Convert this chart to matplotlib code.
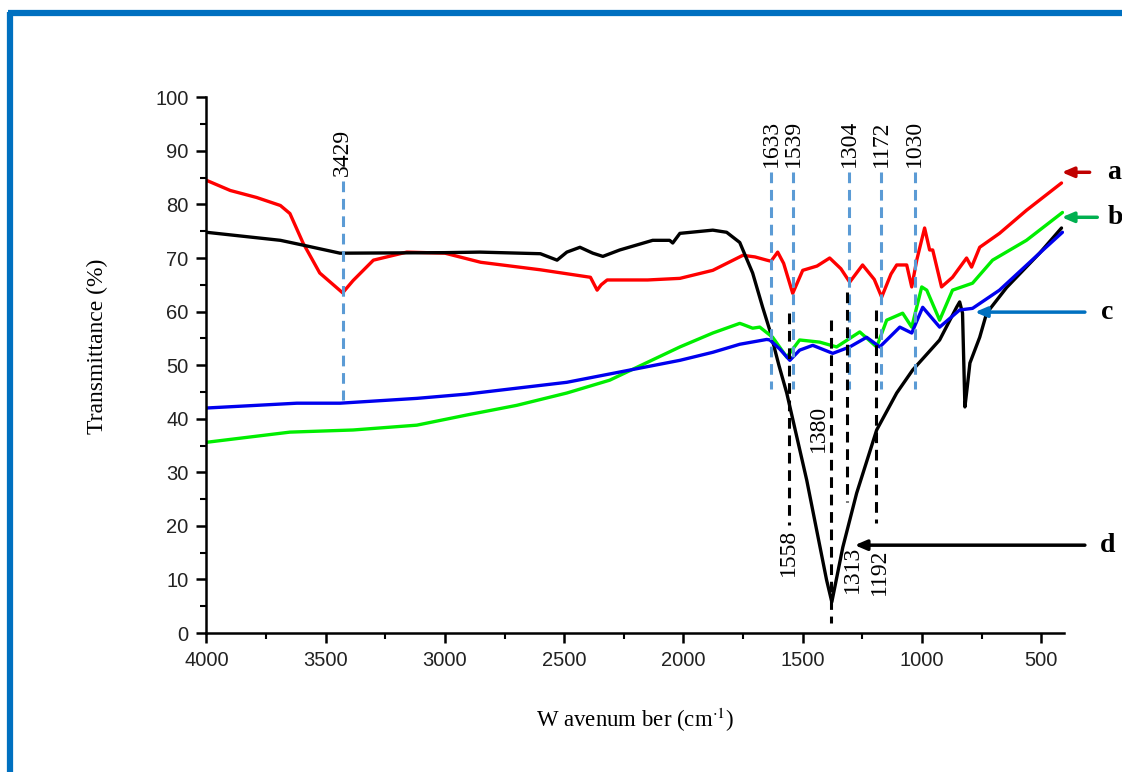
import numpy as np
import matplotlib
matplotlib.use('Agg')
import matplotlib.pyplot as plt
from matplotlib.lines import Line2D
from matplotlib.ticker import MultipleLocator

plt.rcParams['font.family'] = ['Liberation Sans', 'DejaVu Sans']
plt.rcParams['mathtext.fontset'] = 'stix'

# spectrum a (red)
a_wn = [4000, 3900, 3790, 3690, 3650, 3595, 3525, 3429, 3385, 3300, 3160, 3000, 2850,
        2600, 2390, 2362, 2345, 2320, 2150, 2015, 1877, 1751, 1700, 1651, 1633, 1605,
        1580, 1542, 1500, 1440, 1387, 1340, 1303, 1249, 1200, 1169, 1130, 1106, 1064,
        1043, 1022, 989, 968, 955, 918, 872, 813, 792, 758, 675, 562, 415]
a_t = [84.5, 82.6, 81.3, 79.8, 78.3, 72.8, 67.2, 63.5, 65.8, 69.6, 71.1, 70.9, 69.2,
       67.8, 66.4, 64.0, 65.0, 65.9, 65.9, 66.2, 67.7, 70.5, 70.2, 69.6, 69.4, 71.1,
       69.0, 63.4, 67.7, 68.5, 70.0, 68.0, 65.5, 68.7, 66.0, 62.7, 67.0, 68.7, 68.7,
       64.6, 69.6, 75.6, 71.5, 71.5, 64.6, 66.4, 70.0, 68.3, 72.0, 74.6, 78.9, 84.0]

# spectrum b (green)
b_wn = [4000, 3650, 3385, 3118, 2908, 2699, 2489, 2309, 2015, 1877, 1764, 1751, 1710,
        1680, 1626, 1567, 1513, 1429, 1358, 1261, 1190, 1148, 1081, 1043, 1001, 980,
        926, 872, 788, 704, 562, 411]
b_t = [35.6, 37.5, 37.9, 38.8, 40.7, 42.5, 44.8, 47.2, 53.4, 56.0, 57.8, 57.6, 56.9,
       57.1, 55.2, 51.5, 54.7, 54.3, 53.4, 56.2, 53.4, 58.4, 59.7, 57.1, 64.6, 64.0,
       58.4, 64.0, 65.3, 69.6, 73.3, 78.5]

# spectrum c (blue)
c_wn = [4000, 3621, 3440, 3118, 2908, 2699, 2489, 2015, 1877, 1764, 1651, 1638, 1596,
        1554, 1513, 1458, 1374, 1303, 1232, 1177, 1093, 1043, 997, 926, 842, 788, 675,
        507, 411]
c_t = [42.0, 42.9, 42.9, 43.8, 44.6, 45.7, 46.8, 50.9, 52.4, 53.9, 54.8, 54.7, 53.0,
       50.9, 52.8, 53.7, 52.2, 53.4, 55.2, 53.4, 57.1, 56.0, 60.8, 57.1, 60.3, 60.6,
       64.0, 70.9, 74.8]

# spectrum d (black)
d_wn = [4000, 3690, 3595, 3440, 3000, 2854, 2600, 2530, 2489, 2434, 2380, 2338, 2267,
        2129, 2058, 2045, 2015, 1877, 1819, 1764, 1710, 1668, 1638, 1600, 1567, 1483,
        1400, 1378, 1332, 1274, 1190, 1106, 1039, 926, 855, 842, 830, 820, 810, 799,
        758, 729, 645, 507, 415]
d_t = [74.8, 73.3, 72.4, 70.9, 71.0, 71.1, 70.8, 69.6, 71.1, 72.0, 70.9, 70.3, 71.5,
       73.3, 73.3, 72.8, 74.6, 75.2, 74.8, 72.9, 67.2, 60.8, 56.5, 50.0, 44.8, 28.5,
       9.9, 5.8, 16.0, 26.1, 37.9, 44.8, 49.1, 54.7, 60.8, 61.8, 59.7, 42.2, 46.0, 50.4,
       55.2, 59.7, 64.5, 70.9, 75.6]

# marked bands
blue_bands = [3429, 1633, 1539, 1304, 1172, 1030]
black_bands = [1558, 1380, 1313, 1192]

fig = plt.figure(figsize=(11.22, 7.72), dpi=100)
ax = fig.add_axes([0.184, 0.180, 0.764, 0.694])

lw = 2.4
for xs, ys, col in [(a_wn, a_t, '#ff0000'), (d_wn, d_t, '#000000'),
                    (b_wn, b_t, '#00ee00'), (c_wn, c_t, '#0000ee')]:
    ax.plot(xs, ys, color=col, lw=lw, solid_joinstyle='round', solid_capstyle='round')

# blue dashed band markers
dash = dict(ls=(0, (3.5, 2.2)), lw=2.2)
numfont = dict(family='Liberation Serif', fontsize=17)
for wn in blue_bands:
    if wn == 3429:
        ax.plot([wn, wn], [84.3, 43.5], color='#5b9bd5', **dash)
        ax.text(wn, 85.3, str(wn), rotation=90, ha='center', va='bottom', **numfont)
    else:
        ax.plot([wn, wn], [86.0, 45.6], color='#5b9bd5', **dash)
        ax.text(wn, 87.0, str(wn), rotation=90, ha='center', va='bottom', **numfont)

# black dashed band markers
ax.plot([1558, 1558], [59.7, 20.1], color='k', **dash)
ax.text(1558, 19.4, '1558', rotation=90, ha='center', va='top', **numfont)
ax.plot([1380, 1380], [58.4, 1.8], color='k', **dash)
ax.text(1433, 38.2, '1380', rotation=90, ha='center', va='center', **numfont)
ax.plot([1313, 1313], [63.6, 24.5], color='k', **dash)
ax.text(1290, 16.3, '1313', rotation=90, ha='center', va='top', **numfont)
ax.plot([1192, 1192], [60.3, 20.5], color='k', **dash)
ax.text(1177, 15.8, '1192', rotation=90, ha='center', va='top', **numfont)

# curve labels with arrows
labels = [('a', '#c00000', 86.0, 297, 414, 222),
          ('b', '#00b050', 77.6, 265, 414, 222),
          ('c', '#0070c0', 59.9, 317, 778, 250),
          ('d', '#000000', 16.4, 317, 1282, 255)]
for name, col, yv, tail, head, xt in labels:
    ax.annotate('', xy=(head, yv), xytext=(tail, yv), annotation_clip=False,
                arrowprops=dict(arrowstyle='-|>,head_length=0.7,head_width=0.3',
                                color=col, lw=2.5, shrinkA=0, shrinkB=0))
    ax.text(xt, yv, name, ha='left', va='center', family='Liberation Serif',
            fontweight='bold', fontsize=20, clip_on=False)

ax.set_xlim(4000, 406)
ax.set_ylim(0, 100)
ax.xaxis.set_major_locator(MultipleLocator(500))
ax.xaxis.set_minor_locator(MultipleLocator(250))
ax.yaxis.set_major_locator(MultipleLocator(10))
ax.yaxis.set_minor_locator(MultipleLocator(5))
for s in ['top', 'right']:
    ax.spines[s].set_visible(False)
for s in ['left', 'bottom']:
    ax.spines[s].set_linewidth(1.8)
ax.tick_params(which='major', direction='out', length=7, width=1.8, labelsize=14.5,
               pad=6, labelcolor='#222222')
ax.tick_params(which='minor', direction='out', length=4, width=1.5)

ax.set_ylabel('Transmittance (%)', family='Liberation Serif', fontsize=17)
ax.yaxis.set_label_coords(-0.115, 0.535)
ax.set_xlabel(r'W avenum ber (cm$^{\cdot 1}$)', family='Liberation Serif', fontsize=16.5)
ax.xaxis.set_label_coords(0.5, -0.135)

# blue frame at left and top
fig.add_artist(Line2D([0.0093, 0.0093], [0, 0.985], transform=fig.transFigure,
                      color='#0070c0', lw=4.5, solid_capstyle='butt'))
fig.add_artist(Line2D([0.0072, 1.0], [0.983, 0.983], transform=fig.transFigure,
                      color='#0070c0', lw=4.5, solid_capstyle='butt'))

fig.savefig('out.png', dpi=100)
